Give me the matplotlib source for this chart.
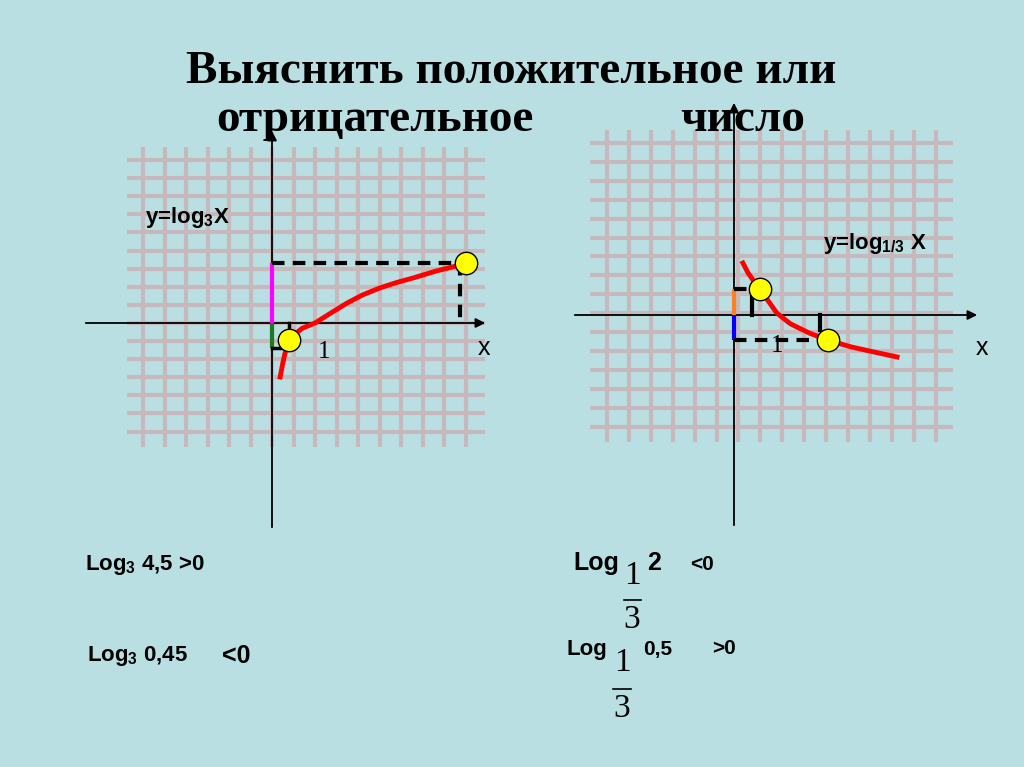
import matplotlib
matplotlib.use("Agg")
import matplotlib.pyplot as plt

plt.rcParams['mathtext.fontset'] = 'custom'
plt.rcParams['mathtext.rm'] = 'Liberation Sans:bold'
plt.rcParams['mathtext.it'] = 'Liberation Sans:bold'
plt.rcParams['mathtext.bf'] = 'Liberation Sans:bold'

# left graph: y = log3 x (graph units)
left_x = [0.19, 0.25, 0.30, 0.40, 0.50, 0.70, 1.00, 1.40, 1.74, 2.10, 2.51, 2.90, 3.28, 3.80, 4.42]
left_y = [-1.20, -0.90, -0.68, -0.38, -0.27, -0.12, 0.00, 0.24, 0.44, 0.62, 0.78, 0.90, 1.00, 1.15, 1.30]
left_pts_x = [0.40, 4.50]
left_pts_y = [-0.38, 1.33]
# right graph: y = log1/3 x
right_x = [0.19, 0.30, 0.42, 0.55, 0.70, 0.91, 1.20, 1.60, 2.00, 2.50, 3.00, 3.47]
right_y = [1.30, 1.05, 0.85, 0.65, 0.40, 0.05, -0.22, -0.45, -0.63, -0.80, -0.93, -1.05]
right_pts_x = [0.55, 2.00]
right_pts_y = [0.65, -0.63]

BG = "#b9dfe3"
GRID = "#c6b8bb"
W, H = 1024, 767
fig = plt.figure(figsize=(10.24, 7.67), dpi=100, facecolor=BG)
bg = fig.add_axes([0, 0, 1, 1])
bg.set_xlim(0, W); bg.set_ylim(H, 0); bg.axis("off")
bg.set_facecolor(BG)

def grid(x0, dx, nx, yv0, yv1, y0, dy, ny, xh0, xh1):
    for i in range(nx):
        bg.plot([x0 + i*dx]*2, [yv0, yv1], color=GRID, lw=3.0, zorder=1, solid_capstyle="butt")
    for j in range(ny):
        bg.plot([xh0, xh1], [y0 + j*dy]*2, color=GRID, lw=3.0, zorder=1, solid_capstyle="butt")

grid(143, 21.5, 16, 147, 447, 160, 18.1, 16, 127, 485)
grid(607, 21.9, 16, 130, 442, 143, 18.9, 16, 590, 953)

def arrow(x0, y0, x1, y1):
    bg.annotate("", xy=(x1, y1), xytext=(x0, y0),
                arrowprops=dict(arrowstyle="-|>", color="black", lw=1.3, mutation_scale=14), zorder=3)

arrow(83, 323, 488, 323); arrow(272, 530, 272, 128)
arrow(572, 315, 980, 315); arrow(734, 528, 734, 100)

def graph_axes(ox, oy, ux, uy):
    a = fig.add_axes([0, 0, 1, 1], facecolor="none")
    a.set_xlim((0 - ox)/ux, (W - ox)/ux)
    a.set_ylim((oy - H)/uy, oy/uy)
    a.axis("off")
    return a

L = graph_axes(272, 323, 43, 45)
L.plot([0, 0], [0, 1.33], color="#ff00ff", lw=3, zorder=4, solid_capstyle="butt")
L.plot([0, 0], [0, -0.56], color="#1f7a1f", lw=3, zorder=4, solid_capstyle="butt")
L.plot([0, 0.4], [-0.56, -0.56], color="black", lw=2.5, zorder=4)
L.plot([0.4, 0.4], [0, -0.38], color="black", lw=2.5, zorder=4)
L.plot([0, 4.37], [1.33, 1.33], color="black", lw=3, ls=(0, (3, 2)), zorder=4)
L.plot([4.37, 4.37], [1.33, 0.05], color="black", lw=3, ls=(0, (3, 2)), zorder=4)
L.plot(left_x, left_y, color="red", lw=3.5, zorder=5)
L.scatter(left_pts_x, left_pts_y, s=260, color="yellow", edgecolor="black", lw=1, zorder=6)

R = graph_axes(734, 315, 47, 40)
R.plot([0, 0], [0, 0.65], color="#ff7f27", lw=3, zorder=4, solid_capstyle="butt")
R.plot([0, 0], [0, -0.63], color="#0000ff", lw=3, zorder=4, solid_capstyle="butt")
R.plot([0, 0.45], [0.65, 0.65], color="black", lw=3, ls=(0, (3, 2)), zorder=4)
R.plot([0.38, 0.38], [0.45, 0], color="black", lw=3, zorder=4)
R.plot([0, 1.85], [-0.63, -0.63], color="black", lw=3, ls=(0, (3, 2)), zorder=4)
R.plot([1.83, 1.83], [0, -0.38], color="black", lw=3, zorder=4)
R.plot(right_x, right_y, color="red", lw=3.5, zorder=5)
R.scatter(right_pts_x, right_pts_y, s=260, color="yellow", edgecolor="black", lw=1, zorder=6)

serif = "Liberation Serif"; sans = "Liberation Sans"
bg.text(511, 72, "Выяснить положительное или", ha="center", va="center",
        fontsize=34, fontweight="bold", family=serif, zorder=7)
bg.text(216, 120, "отрицательное", ha="left", va="center",
        fontsize=34, fontweight="bold", family=serif, zorder=7)
bg.text(680, 120, "число", ha="left", va="center",
        fontsize=34, fontweight="bold", family=serif, zorder=7)

bg.text(145, 218, r"y=log$_{\mathrm{3}}$X", fontsize=16, fontweight="bold", family=sans, va="center", zorder=7)
bg.text(823, 243, r"y=log$_{\mathrm{1/3}}$ X", fontsize=16, fontweight="bold", family=sans, va="center", zorder=7)

bg.text(478, 348, "x", fontsize=18, family=sans, va="center", zorder=7)
bg.text(976, 348, "x", fontsize=18, family=sans, va="center", zorder=7)
bg.text(318, 352, "1", fontsize=18, family=serif, va="center", zorder=7)
bg.text(771, 346, "1", fontsize=18, family=serif, va="center", zorder=7)

# bottom notes
bg.text(85, 565, r"Log$_{\mathrm{3}}$ 4,5 >0", fontsize=16, fontweight="bold", family=sans, va="center")
bg.text(87, 656, r"Log$_{\mathrm{3}}$ 0,45", fontsize=16, fontweight="bold", family=sans, va="center")
bg.text(222, 656, "<0", fontsize=18, fontweight="bold", family=sans, va="center")

bg.text(573, 563, "Log", fontsize=18, fontweight="bold", family=sans, va="center")
bg.text(647, 563, "2", fontsize=18, fontweight="bold", family=sans, va="center")
bg.text(690, 565, "<0", fontsize=15, fontweight="bold", family=sans, va="center")
bg.text(632, 576, "1", fontsize=24, family=serif, ha="center", va="center")
bg.plot([624, 641], [600, 600], color="black", lw=1.2)
bg.text(632, 620, "3", fontsize=24, family=serif, ha="center", va="center")

bg.text(566, 650, "Log", fontsize=16, fontweight="bold", family=sans, va="center")
bg.text(643, 650, "0,5", fontsize=15, fontweight="bold", family=sans, va="center")
bg.text(712, 648, ">0", fontsize=15, fontweight="bold", family=sans, va="center")
bg.text(622, 663, "1", fontsize=24, family=serif, ha="center", va="center")
bg.plot([613, 631], [689, 689], color="black", lw=1.2)
bg.text(622, 709, "3", fontsize=24, family=serif, ha="center", va="center")

fig.savefig("out.png", dpi=100, facecolor=BG)
